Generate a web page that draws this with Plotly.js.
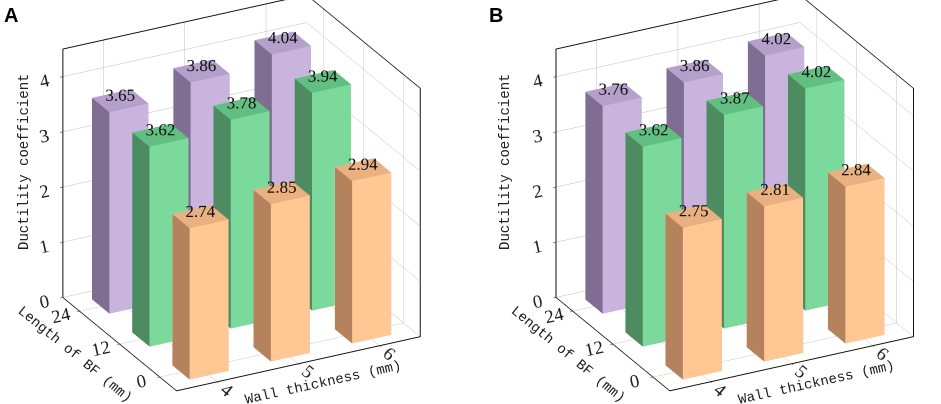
<!DOCTYPE html>
<html><head><meta charset="utf-8">
<script src="https://cdn.plot.ly/plotly-3.0.1.min.js"></script>
<style>html,body{margin:0;padding:0;background:#fff;}#c{width:941px;height:404px;}</style>
</head><body><div id="c"></div>
<script>
// Data
const wallThickness = [4, 5, 6];          // mm (x axis)
const bfLength = [0, 12, 24];             // mm (y axis)
// Panel A
const A_len0  = [2.74, 2.85, 2.94];
const A_len12 = [3.62, 3.78, 3.94];
const A_len24 = [3.65, 3.86, 4.04];
// Panel B
const B_len0  = [2.75, 2.81, 2.84];
const B_len12 = [3.62, 3.87, 4.02];
const B_len24 = [3.76, 3.86, 4.02];
const zTicks = [0, 1, 2, 3, 4];
const panelLabels = ['A', 'B'];
const zTitle = 'Ductility coefficient';

const palette = {
  0:  {front: '#fec793', side: '#b5825e', top: '#e9b17f', back: '#fec793'},
  12: {front: '#7bd99b', side: '#4f8b60', top: '#62bf82', back: '#7bd99b'},
  24: {front: '#c8b4dd', side: '#7f6e92', top: '#b4a0cb', back: '#c8b4dd'}
};
const HX = 0.24, HY = 2.6;

function cuboid(xc, yc, h, dx, dy, col, scene) {
  const x0 = xc - dx, x1 = xc + dx, y0 = yc - dy, y1 = yc + dy;
  const X = [x0, x1, x1, x0, x0, x1, x1, x0];
  const Y = [y0, y0, y1, y1, y0, y0, y1, y1];
  const Z = [0, 0, 0, 0, h, h, h, h];
  const I = [0,0, 4,4, 0,0, 3,3, 0,0, 1,1];
  const J = [1,2, 5,6, 1,5, 2,6, 3,7, 2,6];
  const K = [2,3, 6,7, 5,4, 6,7, 7,4, 6,5];
  const fc = [col.side,col.side, col.top,col.top, col.front,col.front, col.back,col.back, col.side,col.side, col.side,col.side];
  return {type: 'mesh3d', x: X, y: Y, z: Z, i: I, j: J, k: K, facecolor: fc,
    flatshading: true, lighting: {ambient: 1, diffuse: 0, specular: 0, roughness: 1, fresnel: 0},
    hoverinfo: 'skip', showscale: false, scene: scene};
}

const traces = [];
function addPanel(rows, scene) {
  const tx = [], ty = [], tz = [], tt = [];
  bfLength.forEach((L, r) => {
    wallThickness.forEach((w, c) => {
      const v = rows[r][c];
      traces.push(cuboid(w, L, v, HX, HY, palette[L], scene));
      tx.push(w); ty.push(L); tz.push(v + 0.1); tt.push(v.toFixed(2));
    });
  });
  traces.push({type: 'scatter3d', mode: 'text', x: tx, y: ty, z: tz, text: tt,
    textposition: 'middle center', textfont: {family: 'Liberation Serif, serif', size: 17, color: '#111'},
    hoverinfo: 'skip', showlegend: false, scene: scene});
}
addPanel([A_len0, A_len12, A_len24], 'scene');
addPanel([B_len0, B_len12, B_len24], 'scene2');

const tickFont = {family: 'Liberation Serif, serif', size: 15, color: '#222'};
const titleFont = {family: 'Liberation Mono, monospace', size: 14, color: '#222'};
function axisBase(titleText, range, tickvals) {
  return {title: {text: titleText, font: titleFont},
    range: range, tickvals: tickvals, ticktext: tickvals.map(String), tickfont: tickFont,
    showgrid: true, gridcolor: '#bdbdbd', gridwidth: 1, showline: true, linecolor: '#111', linewidth: 2,
    mirror: true, showbackground: false, zeroline: false, showspikes: false, ticks: 'outside', ticklen: 3, tickcolor: '#111'};
}
// screen-right direction in world coords, used to slide the view sideways
const R = [0.887, -0.461];
function sceneDef(domainX, k, dz) {
  const cx = -R[0] * k, cy = -R[1] * k;
  return {
    domain: {x: domainX, y: [0, 1]},
    xaxis: axisBase('Wall thickness (mm)', [3.5, 6.5], wallThickness),
    yaxis: axisBase('Length of BF (mm)', [-5, 29], bfLength),
    zaxis: axisBase('', [0, 4.5], zTicks),
    aspectmode: 'manual', aspectratio: {x: 1.36, y: 1.22, z: 1.36},
    camera: {eye: {x: -0.588 + cx, y: -1.131 + cy, z: 0.602 + dz}, up: {x: 0, y: 0, z: 1},
      center: {x: cx, y: cy, z: dz}, projection: {type: 'orthographic'}}
  };
}
const layout = {
  width: 941, height: 404, margin: {l: 0, r: 0, t: 0, b: 0},
  paper_bgcolor: '#fff', showlegend: false,
  scene: sceneDef([0, 0.5], 0.03, -0.05),
  scene2: sceneDef([0.5, 1], 0.14, -0.05),
  annotations: [
    {text: '<b>' + panelLabels[0] + '</b>', x: 0.002, y: 0.995, xref: 'paper', yref: 'paper', xanchor: 'left', yanchor: 'top', showarrow: false, font: {family: 'Liberation Sans, Arial', size: 20, color: '#000'}},
    {text: '<b>' + panelLabels[1] + '</b>', x: 0.518, y: 0.995, xref: 'paper', yref: 'paper', xanchor: 'left', yanchor: 'top', showarrow: false, font: {family: 'Liberation Sans, Arial', size: 20, color: '#000'}},
    {text: zTitle, x: 14 / 941, y: 1 - 162 / 404, xref: 'paper', yref: 'paper', showarrow: false, textangle: -90, font: titleFont},
    {text: zTitle, x: 505 / 941, y: 1 - 162 / 404, xref: 'paper', yref: 'paper', showarrow: false, textangle: -90, font: titleFont}
  ]
};
Plotly.newPlot('c', traces, layout, {displayModeBar: false});
</script></body></html>
